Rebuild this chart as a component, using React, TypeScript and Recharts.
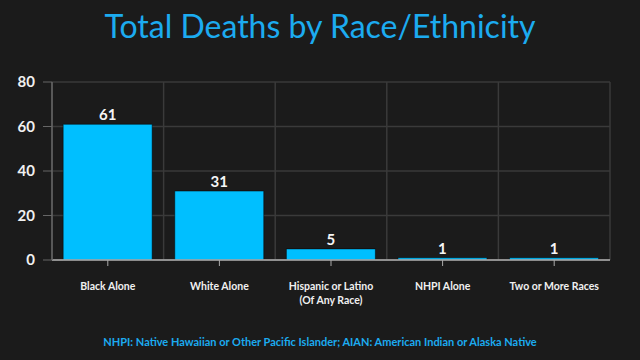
import React from "react";
import { BarChart, Bar, XAxis, YAxis, CartesianGrid, LabelList } from "recharts";

const categories = [
  "Black Alone",
  "White Alone",
  "Hispanic or Latino\n(Of Any Race)",
  "NHPI Alone",
  "Two or More Races",
];
const deaths = [61, 31, 5, 1, 1];
const yTicks = [0, 20, 40, 60, 80];
const title = "Total Deaths by Race/Ethnicity";
const footnote = "NHPI: Native Hawaiian or Other Pacific Islander; AIAN: American Indian or Alaska Native";

const data = categories.map((c, i) => ({ name: c, value: deaths[i] }));

const BG = "#1b1b1b";
const BAR = "#00bfff";
const TITLE = "#1cabf0";
const GRID = "#3a3a3a";

const XTick = (props: any) => {
  const { x, y, payload } = props;
  const lines = String(payload.value).split("\n");
  return (
    <g transform={`translate(${x},${y})`}>
      <text
        textAnchor="middle"
        fill="#f0f0f0"
        fontFamily="Lato, 'Open Sans', sans-serif"
        fontWeight={700}
        fontSize={10.5}
      >
        {lines.map((l, i) => (
          <tspan key={i} x={0} dy={i === 0 ? 22 : 14}>
            {l}
          </tspan>
        ))}
      </text>
    </g>
  );
};

export default function App() {
  return (
    <div
      style={{
        position: "absolute",
        left: 0,
        top: 0,
        width: 640,
        height: 360,
        background: BG,
        overflow: "hidden",
      }}
    >
      <div
        style={{
          position: "absolute",
          left: 0,
          top: 3,
          width: 640,
          textAlign: "center",
          color: TITLE,
          fontFamily: "Lato, 'Open Sans', sans-serif",
          fontSize: 32,
          lineHeight: "46px",
        }}
      >
        {title}
      </div>
      <BarChart
        width={640}
        height={360}
        data={data}
        margin={{ top: 82, right: 30, left: 0, bottom: 0 }}
        barCategoryGap="10%"
      >
        <CartesianGrid
          stroke={GRID}
          strokeWidth={1.5}
          horizontalValues={yTicks}
          verticalCoordinatesGenerator={({ offset }: any) =>
            categories.map((_, i) => offset.left + (i * offset.width) / categories.length).concat([offset.left + offset.width])
          }
        />
        <XAxis
          dataKey="name"
          height={100}
          interval={0}
          tick={<XTick />}
          tickLine={{ stroke: "#aaa" }}
          tickSize={6}
          axisLine={{ stroke: "#b0b0b0", strokeWidth: 1.5 }}
        />
        <YAxis
          width={52}
          domain={[0, 80]}
          ticks={yTicks}
          tickSize={9}
          tickMargin={8}
          tickLine={{ stroke: "#666" }}
          axisLine={{ stroke: "#666", strokeWidth: 1.5 }}
          tick={{
            fill: "#f0f0f0",
            fontSize: 15,
            fontWeight: 700,
            fontFamily: "Lato, 'Open Sans', sans-serif",
          }}
        />
        <Bar dataKey="value" fill={BAR} stroke="#000" strokeWidth={0.5} isAnimationActive={false}>
          <LabelList
            dataKey="value"
            position="top"
            offset={4}
            fill="#f5f5f5"
            fontSize={15}
            fontWeight={700}
            fontFamily="Lato, 'Open Sans', sans-serif"
          />
        </Bar>
      </BarChart>
      <div
        style={{
          position: "absolute",
          left: 0,
          top: 334,
          width: 640,
          textAlign: "center",
          color: TITLE,
          fontFamily: "Lato, 'Open Sans', sans-serif",
          fontWeight: 700,
          fontSize: 11,
          lineHeight: "16px",
        }}
      >
        {footnote}
      </div>
    </div>
  );
}
